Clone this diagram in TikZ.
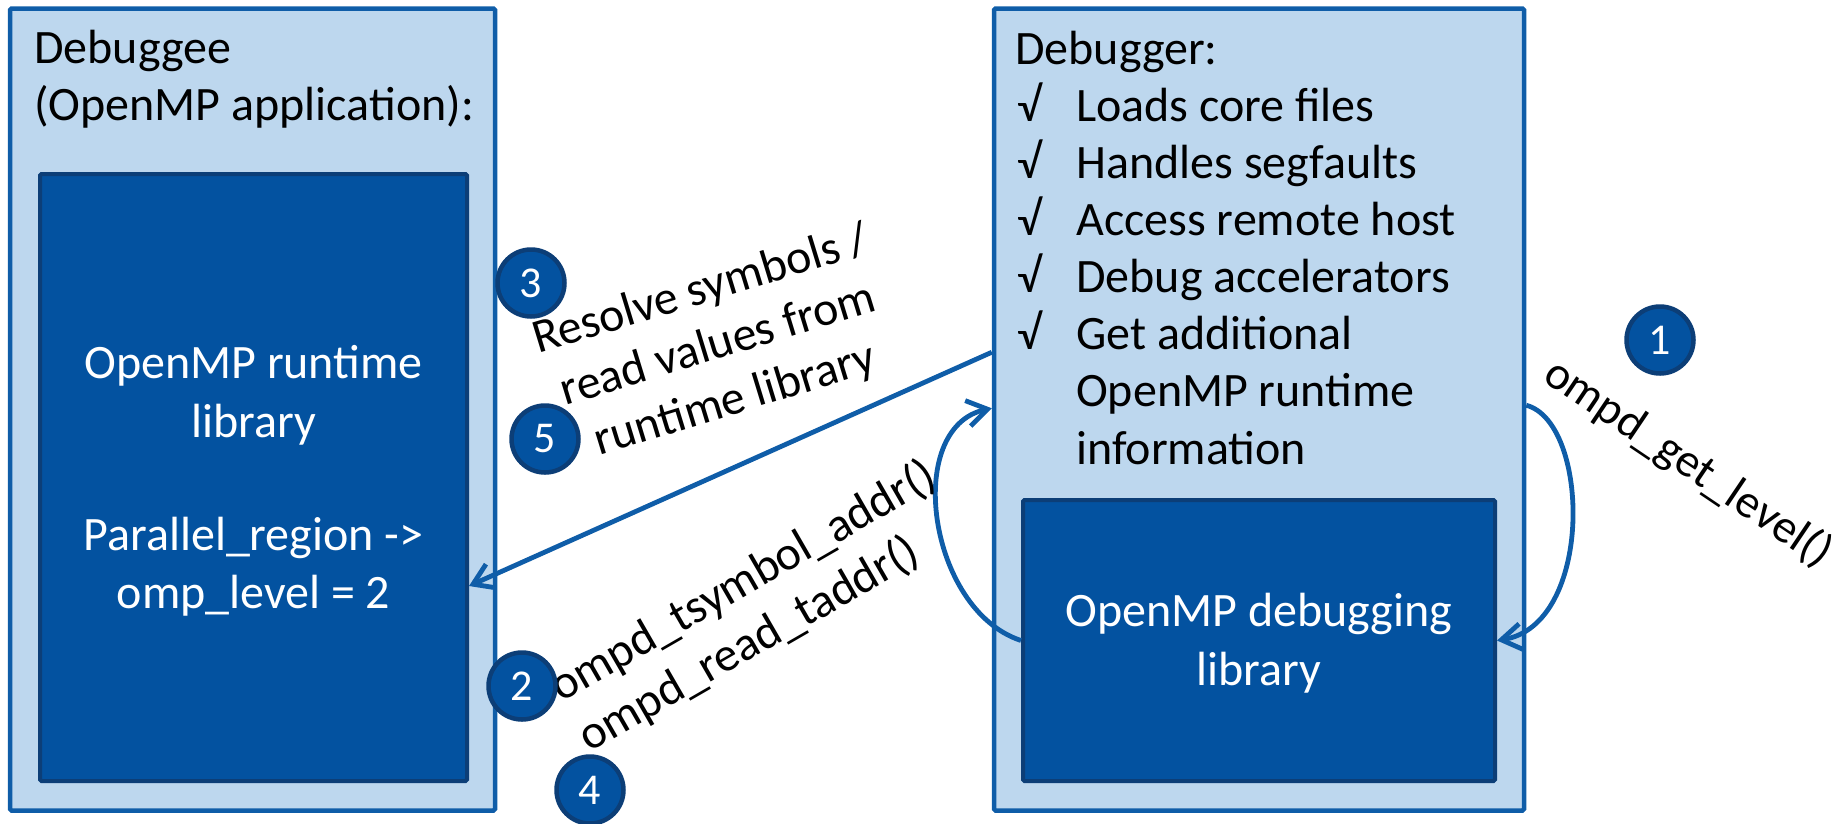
\documentclass[tikz,border=0pt]{standalone}
\usepackage{fontspec}
\setmainfont{Carlito}
\usetikzlibrary{arrows.meta,calc}
\definecolor{boxfill}{HTML}{BDD7EE}
\definecolor{boxline}{HTML}{0F5DA8}
\definecolor{corefill}{HTML}{0352A0}
\definecolor{coreline}{HTML}{0C3E77}
\definecolor{flow}{HTML}{0F5DA8}
\begin{document}
\begin{tikzpicture}[x=1pt,y=-1pt,
  txt/.style={inner sep=0pt, font=\fontsize{48}{57.5}\selectfont},
  wtxt/.style={txt, text=white},
  outerbox/.style={draw=boxline, fill=boxfill, line width=4.5pt, rounded corners=1.5pt, inner sep=0pt},
  corebox/.style={draw=coreline, fill=corefill, line width=4pt, rounded corners=1.5pt, inner sep=0pt},
  badge/.style={circle, fill=corefill, draw=coreline, line width=4.5pt, minimum size=67pt,
                inner sep=0pt, text=white, font=\fontsize{44}{50}\selectfont},
  flowline/.style={draw=flow, line width=4.8pt, -{Straight Barb[length=20pt,width=26pt]}}
]
\useasboundingbox (0,0) rectangle (1845,823);

% --- boxes ---
\node[outerbox, minimum width=485pt, minimum height=802pt] (debuggee) at (252.5,409.5) {};
\node[corebox, minimum width=427pt, minimum height=607pt] (runtime) at (253.5,477.5) {};
\node[outerbox, minimum width=530pt, minimum height=802pt] (debugger) at (1259,409.5) {};
\node[corebox, minimum width=472pt, minimum height=281pt] (dbglib) at (1259,640.5) {};

% --- debuggee texts ---
\node[txt, anchor=base west] (eeA) at (34,63) {Debuggee};
\node[txt, anchor=base west] (eeB) at (34,120) {(OpenMP application):};
\node[wtxt, anchor=base] (rtA) at (253.5,378) {OpenMP runtime};
\node[wtxt, anchor=base] (rtB) at (253.5,437) {library};
\node[wtxt, anchor=base] (rtC) at (253.5,550) {Parallel\_region ->};
\node[wtxt, anchor=base] (rtD) at (253.5,608) {omp\_level = 2};

% --- debugger texts ---
\node[txt, anchor=base west] (erT) at (1015,64) {Debugger:};
\foreach \k/\s in {1/Loads core files, 2/Handles segfaults, 3/Access remote host,
                   4/Debug accelerators, 5/Get additional}{
  \node[txt, anchor=base west] (ck\k) at (1017,64+57.15*\k) {√};
  \node[txt, anchor=base west] (it\k) at (1076,64+57.15*\k) {\s};
}
\node[txt, anchor=base west] (it6) at (1076,64+57.15*6) {OpenMP runtime};
\node[txt, anchor=base west] (it7) at (1076,64+57.15*7) {information};
\node[wtxt, anchor=base] (dlA) at (1259,626) {OpenMP debugging};
\node[wtxt, anchor=base] (dlB) at (1259,685) {library};

% --- connectors ---
\draw[flowline] ($(debugger.north west)+(0,346)$) -- ($(runtime.north east)+(0,414)$);
\draw[flowline] (dbglib.west) .. controls +(-93,-30.5) and +(-89,19) .. ($(debugger.north west)+(0,402)$);
\draw[flowline] ($(debugger.north east)+(0,399)$) .. controls +(64,17) and +(97,-15.5) .. (dbglib.east);

% --- connector labels ---
\node[txt, anchor=base, rotate=17] (rsA) at (705,303) {Resolve symbols /};
\node[txt, anchor=base, rotate=17] (rsB) at (722,358) {read values from};
\node[txt, anchor=base, rotate=17] (rsC) at (739,413) {runtime library};
\node[txt, anchor=base west, rotate=30] (omA) at (561,703) {ompd\_tsymbol\_addr()};
\node[txt, anchor=base west, rotate=30] (omB) at (589,753) {ompd\_read\_taddr()};
\node[txt, anchor=base west, rotate=-34, font=\fontsize{47}{57.5}\selectfont] (gl) at (1541,380) {ompd\_get\_level()};

% --- step badges ---
\node[badge] (s1) at (1660,340) {1};
\node[badge] (s2) at (522,686) {2};
\node[badge] (s3) at (531,283) {3};
\node[badge] (s4) at (590,790) {4};
\node[badge] (s5) at (545,439) {5};
\end{tikzpicture}
\end{document}
